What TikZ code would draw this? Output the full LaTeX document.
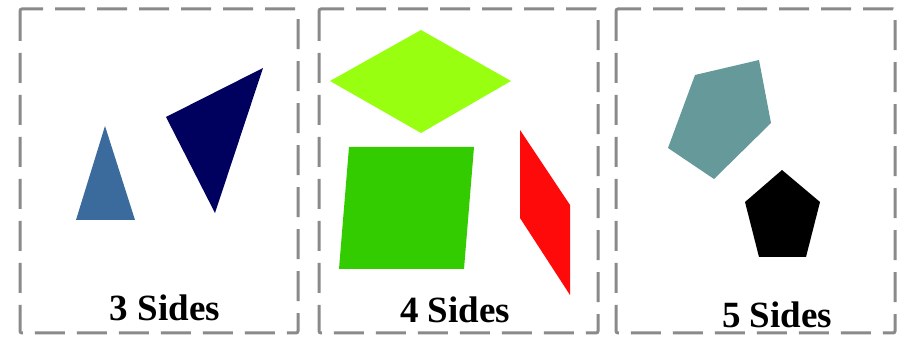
\documentclass[tikz,border=0pt]{standalone}
\usepackage{fontspec}
\setmainfont{Liberation Serif}
\definecolor{borderg}{HTML}{8A8A8A}
\definecolor{triA}{HTML}{3B6A9C}
\definecolor{triB}{HTML}{00005E}
\definecolor{rhombC}{HTML}{99FF11}
\definecolor{squareC}{HTML}{33CC00}
\definecolor{redC}{HTML}{FF0A0A}
\definecolor{tealC}{HTML}{669999}
\begin{document}
\begin{tikzpicture}[x=1pt,y=-1pt,
  panel/.style={draw=borderg,line width=3pt,dash pattern=on 30pt off 12pt,rounded corners=2pt},
  lbl/.style={font=\fontsize{37}{40}\selectfont\bfseries,anchor=base,inner sep=0pt}]
\useasboundingbox (0,0) rectangle (907,344);
\fill[white] (0,0) rectangle (907,344);
% panels
\draw[panel] (20,9) rectangle (298,333);
\draw[panel] (319,9) rectangle (598,333);
\draw[panel] (616,9) rectangle (895,333);
% 3 sides
\fill[triA] (105,126) -- (135,220) -- (76,220) -- cycle;
\fill[triB] (166,117) -- (263,68) -- (215,213) -- cycle;
\node[lbl] (l3) at (165,320) {3 Sides};
% 4 sides
\fill[rhombC] (330,81) -- (421,30) -- (511,81) -- (421,133) -- cycle;
\fill[squareC] (349,147) -- (474,147) -- (464,269) -- (339,269) -- cycle;
\fill[redC] (520,130) -- (570,205) -- (570,295) -- (520,218) -- cycle;
\node[lbl] (l4) at (455,323) {4 Sides};
% 5 sides
\fill[tealC] (695,75) -- (759,60) -- (771,123) -- (714,179) -- (668,148) -- cycle;
\fill[black] (782,170) -- (820,202) -- (806,257) -- (759,257) -- (745,202) -- cycle;
\node[lbl] (l5) at (777,327) {5 Sides};
\end{tikzpicture}
\end{document}
